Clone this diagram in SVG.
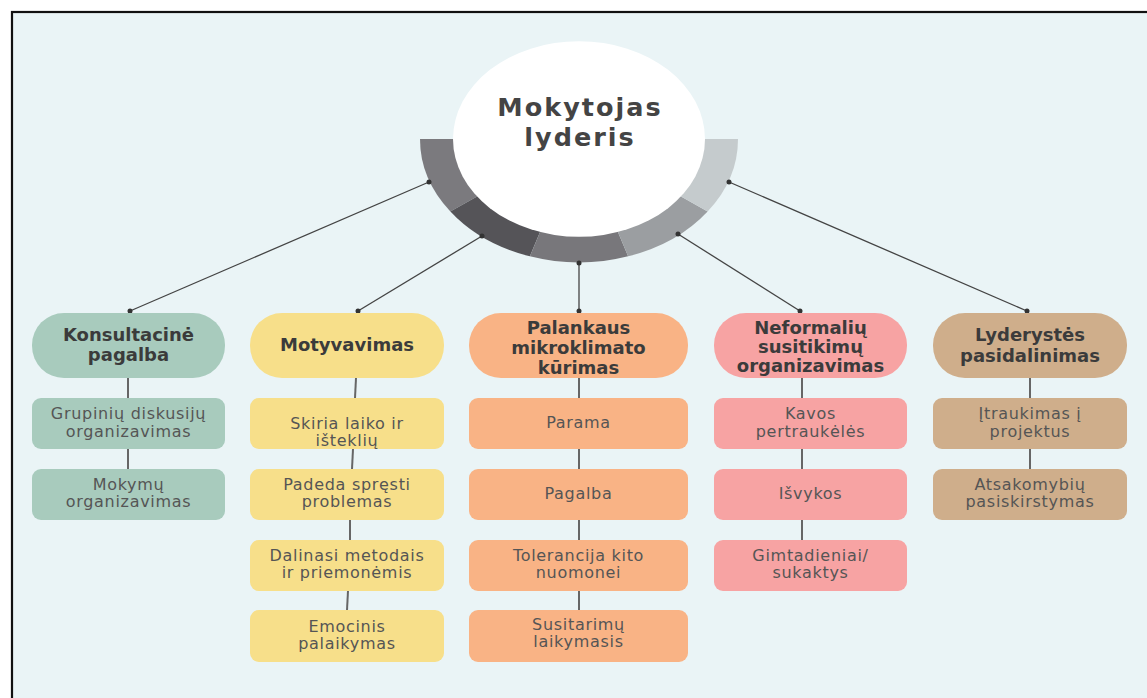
<svg xmlns="http://www.w3.org/2000/svg" width="1147" height="698" viewBox="0 0 1147 698">
<style>
.hdr{font-family:"DejaVu Sans",sans-serif;font-weight:bold;font-size:18px;fill:#3b3b3b;text-anchor:middle}
.chd{font-family:"DejaVu Sans",sans-serif;font-size:16px;letter-spacing:0.7px;fill:#555;text-anchor:middle}
.ttl{font-family:"DejaVu Sans",sans-serif;font-weight:bold;font-size:25.5px;letter-spacing:2px;fill:#444;text-anchor:middle}
.con{stroke:#444;stroke-width:1.3;fill:none}
.vc{stroke:#666;stroke-width:2;fill:none}
.dot{fill:#333}
.g{fill:#A8CBBD}.y{fill:#F7DF8A}.o{fill:#F9B385}.p{fill:#F7A3A3}.b{fill:#CFAE8B}
</style>
<rect x="0" y="0" width="1147" height="698" fill="#ffffff"/>
<rect x="12" y="12" width="1160" height="720" fill="#EAF4F6" stroke="#111" stroke-width="2.2"/>

<g id="connectors">
<line class="con" x1="429" y1="182" x2="130" y2="311"/>
<line class="con" x1="482" y1="236" x2="358" y2="311"/>
<line class="con" x1="579" y1="263" x2="579" y2="311"/>
<line class="con" x1="678" y1="234" x2="800" y2="311"/>
<line class="con" x1="729" y1="182" x2="1027" y2="311"/>
<circle class="dot" cx="130" cy="311" r="2.5"/>
<circle class="dot" cx="358" cy="311" r="2.5"/>
<circle class="dot" cx="579" cy="311" r="2.5"/>
<circle class="dot" cx="800" cy="311" r="2.5"/>
<circle class="dot" cx="1027" cy="311" r="2.5"/>
<line class="vc" x1="128" y1="378" x2="128" y2="398"/>
<line class="vc" x1="128" y1="449" x2="128" y2="469"/>
<line class="vc" x1="356" y1="378" x2="355" y2="398"/>
<line class="vc" x1="353" y1="449" x2="352" y2="469"/>
<line class="vc" x1="350" y1="520" x2="350" y2="540"/>
<line class="vc" x1="348" y1="591" x2="347" y2="610"/>
<line class="vc" x1="579" y1="378" x2="579" y2="398"/>
<line class="vc" x1="579" y1="449" x2="579" y2="469"/>
<line class="vc" x1="579" y1="520" x2="579" y2="540"/>
<line class="vc" x1="579" y1="591" x2="579" y2="610"/>
<line class="vc" x1="802" y1="378" x2="802" y2="398"/>
<line class="vc" x1="802" y1="449" x2="802" y2="469"/>
<line class="vc" x1="802" y1="520" x2="802" y2="540"/>
<line class="vc" x1="1030" y1="378" x2="1030" y2="398"/>
<line class="vc" x1="1030" y1="449" x2="1030" y2="469"/>
</g>

<g id="center">
<g transform="translate(579,139) scale(1,0.776)">
<path d="M0,0 L-128.63,93.46 A159,159 0 0 1 -159,0 Z" fill="#7b7a7e"/>
<path d="M0,0 L-49.13,151.22 A159,159 0 0 1 -128.63,93.46 Z" fill="#555458"/>
<path d="M0,0 L49.13,151.22 A159,159 0 0 1 -49.13,151.22 Z" fill="#78777b"/>
<path d="M0,0 L128.63,93.46 A159,159 0 0 1 49.13,151.22 Z" fill="#9b9ea1"/>
<path d="M0,0 L159,0 A159,159 0 0 1 128.63,93.46 Z" fill="#c5cbcd"/>
<circle cx="0" cy="0" r="126" fill="#ffffff"/>
</g>
<text class="ttl" x="580" y="116">Mokytojas</text>
<text class="ttl" x="580" y="146">lyderis</text>
<circle class="dot" cx="429" cy="182" r="2.5"/>
<circle class="dot" cx="482" cy="236" r="2.5"/>
<circle class="dot" cx="579" cy="263" r="2.5"/>
<circle class="dot" cx="678" cy="234" r="2.5"/>
<circle class="dot" cx="729" cy="182" r="2.5"/>
</g>

<g id="konsultacine">
<rect class="g" x="32" y="313" width="193" height="65" rx="32"/>
<text class="hdr" x="128.5" y="341">Konsultacinė</text>
<text class="hdr" x="128.5" y="361">pagalba</text>
</g>
<g id="grupiniu">
<rect class="g" x="32" y="398" width="193" height="51" rx="9"/>
<text class="chd" x="128.5" y="419">Grupinių diskusijų</text>
<text class="chd" x="128.5" y="437">organizavimas</text>
</g>
<g id="mokymu">
<rect class="g" x="32" y="469" width="193" height="51" rx="9"/>
<text class="chd" x="128.5" y="490">Mokymų</text>
<text class="chd" x="128.5" y="507">organizavimas</text>
</g>

<g id="motyvavimas">
<rect class="y" x="250" y="313" width="194" height="65" rx="32"/>
<text class="hdr" x="347" y="351">Motyvavimas</text>
</g>
<g id="skiria">
<rect class="y" x="250" y="398" width="194" height="51" rx="9"/>
<text class="chd" x="347" y="429">Skiria laiko ir</text>
<text class="chd" x="347" y="446">išteklių</text>
</g>
<g id="padeda">
<rect class="y" x="250" y="469" width="194" height="51" rx="9"/>
<text class="chd" x="347" y="490">Padeda spręsti</text>
<text class="chd" x="347" y="507">problemas</text>
</g>
<g id="dalinasi">
<rect class="y" x="250" y="540" width="194" height="51" rx="9"/>
<text class="chd" x="347" y="561">Dalinasi metodais</text>
<text class="chd" x="347" y="578">ir priemonėmis</text>
</g>
<g id="emocinis">
<rect class="y" x="250" y="610" width="194" height="52" rx="9"/>
<text class="chd" x="347" y="632">Emocinis</text>
<text class="chd" x="347" y="649">palaikymas</text>
</g>

<g id="palankaus">
<rect class="o" x="469" y="313" width="219" height="65" rx="32"/>
<text class="hdr" x="578.5" y="334">Palankaus</text>
<text class="hdr" x="578.5" y="354">mikroklimato</text>
<text class="hdr" x="578.5" y="374">kūrimas</text>
</g>
<g id="parama">
<rect class="o" x="469" y="398" width="219" height="51" rx="9"/>
<text class="chd" x="578.5" y="428">Parama</text>
</g>
<g id="pagalba">
<rect class="o" x="469" y="469" width="219" height="51" rx="9"/>
<text class="chd" x="578.5" y="499">Pagalba</text>
</g>
<g id="tolerancija">
<rect class="o" x="469" y="540" width="219" height="51" rx="9"/>
<text class="chd" x="578.5" y="561">Tolerancija kito</text>
<text class="chd" x="578.5" y="578">nuomonei</text>
</g>
<g id="susitarimu">
<rect class="o" x="469" y="610" width="219" height="52" rx="9"/>
<text class="chd" x="578.5" y="630">Susitarimų</text>
<text class="chd" x="578.5" y="647">laikymasis</text>
</g>

<g id="neformaliu">
<rect class="p" x="714" y="313" width="193" height="65" rx="32"/>
<text class="hdr" x="810.5" y="334">Neformalių</text>
<text class="hdr" x="810.5" y="353">susitikimų</text>
<text class="hdr" x="810.5" y="372">organizavimas</text>
</g>
<g id="kavos">
<rect class="p" x="714" y="398" width="193" height="51" rx="9"/>
<text class="chd" x="810.5" y="419">Kavos</text>
<text class="chd" x="810.5" y="437">pertraukėlės</text>
</g>
<g id="isvykos">
<rect class="p" x="714" y="469" width="193" height="51" rx="9"/>
<text class="chd" x="810.5" y="499">Išvykos</text>
</g>
<g id="gimtadieniai">
<rect class="p" x="714" y="540" width="193" height="51" rx="9"/>
<text class="chd" x="810.5" y="561">Gimtadieniai/</text>
<text class="chd" x="810.5" y="578">sukaktys</text>
</g>

<g id="lyderystes">
<rect class="b" x="933" y="313" width="194" height="65" rx="32"/>
<text class="hdr" x="1030" y="341">Lyderystės</text>
<text class="hdr" x="1030" y="362">pasidalinimas</text>
</g>
<g id="itraukimas">
<rect class="b" x="933" y="398" width="194" height="51" rx="9"/>
<text class="chd" x="1030" y="419">Įtraukimas į</text>
<text class="chd" x="1030" y="437">projektus</text>
</g>
<g id="atsakomybiu">
<rect class="b" x="933" y="469" width="194" height="51" rx="9"/>
<text class="chd" x="1030" y="490">Atsakomybių</text>
<text class="chd" x="1030" y="507">pasiskirstymas</text>
</g>
</svg>
